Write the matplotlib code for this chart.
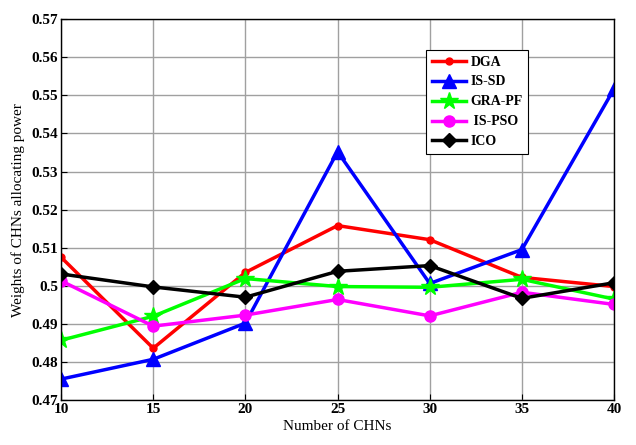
import matplotlib
matplotlib.use("Agg")
import matplotlib.pyplot as plt

x = [10, 15, 20, 25, 30, 35, 40]
dga = [0.5075, 0.4836, 0.5035, 0.5158, 0.5121, 0.5022, 0.4998]
is_sd = [0.4755, 0.4807, 0.4902, 0.5352, 0.5006, 0.5095, 0.5517]
gra_pf = [0.4857, 0.4920, 0.5019, 0.4998, 0.4996, 0.5017, 0.4965]
is_pso = [0.5013, 0.4894, 0.4923, 0.4964, 0.4921, 0.4983, 0.4951]
ico = [0.5031, 0.4997, 0.4970, 0.5038, 0.5053, 0.4967, 0.5008]
yticks = [0.47, 0.48, 0.49, 0.5, 0.51, 0.52, 0.53, 0.54, 0.55, 0.56, 0.57]
ytick_labels = ["0.47", "0.48", "0.49", "0.5", "0.51", "0.52", "0.53", "0.54", "0.55", "0.56", "0.57"]

plt.rcParams['font.family'] = ['Liberation Serif', 'DejaVu Serif']

fig = plt.figure(figsize=(6.36, 4.45), dpi=100)
ax = fig.add_axes([0.096, 0.101, 0.8695, 0.856])

ax.plot(x, dga, color='#ff0000', lw=2.5, marker='o', ms=5, label='DGA')
ax.plot(x, is_sd, color='#0000ff', lw=2.5, marker='^', ms=10, label='IS-SD')
ax.plot(x, gra_pf, color='#00ff00', lw=2.5, marker='*', ms=13, label='GRA-PF')
ax.plot(x, is_pso, color='#ff00ff', lw=2.5, marker='o', ms=8, label=' IS-PSO')
ax.plot(x, ico, color='#000000', lw=2.5, marker='D', ms=7, label='ICO')

ax.set_xlim(10, 40)
ax.set_ylim(0.47, 0.57)
ax.set_xticks(x)
ax.set_xticklabels([str(v) for v in x], fontweight='bold', fontsize=11)
ax.set_yticks(yticks)
ax.set_yticklabels(ytick_labels, fontweight='bold', fontsize=11)
ax.tick_params(direction='in', length=4, width=0.8, pad=2)
ax.grid(True, color='#a0a0a0', lw=1.0)
ax.set_axisbelow(True)
for s in ax.spines.values():
    s.set_linewidth(1.0)
ax.set_xlabel('Number of CHNs', fontsize=11, labelpad=3)
ax.set_ylabel('Weights of CHNs allocating power', fontsize=11, labelpad=5)

leg = ax.legend(loc='upper left', bbox_to_anchor=(0.660, 0.919), fancybox=False,
                edgecolor='black', framealpha=1, prop={'weight': 'bold', 'size': 10},
                handlelength=2.5, handletextpad=0.3, borderpad=0.4, labelspacing=0.5,
                borderaxespad=0)
leg.get_frame().set_linewidth(0.8)

fig.savefig('out.png', dpi=100)
